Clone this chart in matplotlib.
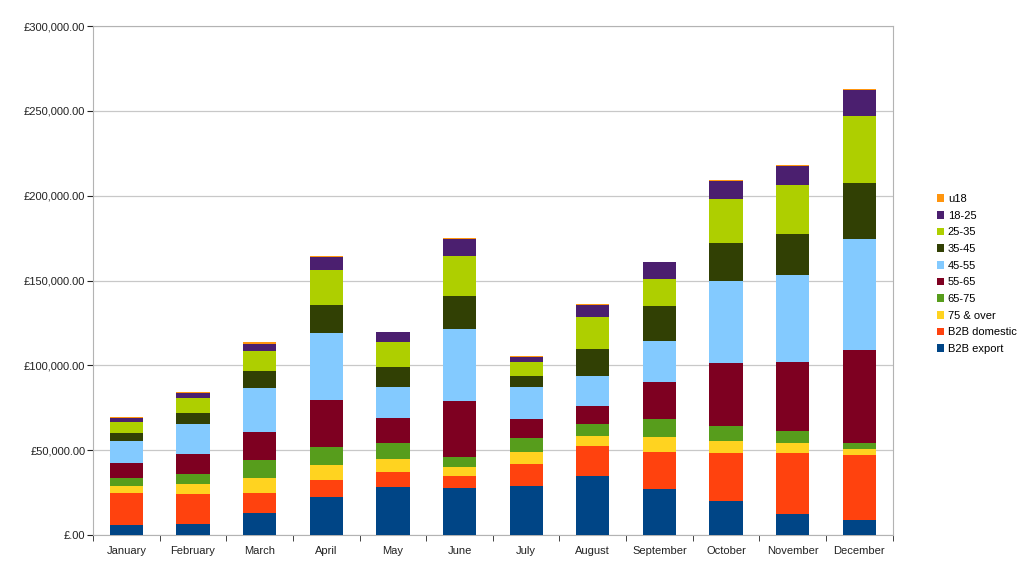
import numpy as np
import matplotlib.pyplot as plt
from matplotlib.ticker import FuncFormatter, MultipleLocator

plt.rcParams['font.family'] = ['Liberation Sans', 'DejaVu Sans']
plt.rcParams['font.size'] = 8

# Valeurs (en milliers de £)
months = ['January', 'February', 'March', 'April', 'May', 'June', 'July',
          'August', 'September', 'October', 'November', 'December']
b2b_export = [5.9, 6.7, 12.8, 22.6, 28.5, 27.5, 28.9, 34.8, 27.1, 20.0, 12.4, 8.8]
b2b_domestic = [19.0, 17.6, 11.8, 9.8, 8.4, 7.5, 12.8, 17.6, 21.8, 28.1, 35.7, 38.2]
over_75 = [4.2, 5.6, 9.0, 8.8, 8.1, 5.3, 7.0, 5.9, 8.8, 7.5, 5.9, 3.5]
age_65_75 = [4.7, 6.2, 10.4, 10.5, 9.4, 5.9, 8.5, 7.1, 10.5, 8.8, 7.5, 3.7]
age_55_65 = [8.4, 11.4, 16.5, 27.9, 14.7, 33.0, 11.2, 10.4, 22.1, 37.0, 40.4, 54.8]
age_45_55 = [13.0, 17.7, 25.9, 39.6, 17.9, 42.0, 18.6, 18.1, 24.0, 48.1, 51.1, 65.6]
age_35_45 = [5.1, 6.9, 10.1, 16.5, 11.8, 19.8, 6.7, 15.5, 20.6, 22.4, 24.2, 33.0]
age_25_35 = [6.1, 8.4, 11.7, 20.5, 14.7, 23.7, 8.2, 18.9, 16.1, 26.3, 28.9, 39.3]
age_18_25 = [2.7, 3.0, 4.5, 7.8, 5.9, 9.5, 3.2, 7.4, 9.9, 10.6, 11.3, 15.5]
u18 = [0.6, 0.6, 1.0, 0.4, 0.2, 0.6, 0.4, 0.2, 0.2, 0.6, 0.6, 0.2]

series = [
    ('B2B export', b2b_export, '#004586'),
    ('B2B domestic', b2b_domestic, '#ff420e'),
    ('75 & over', over_75, '#ffd320'),
    ('65-75', age_65_75, '#579d1c'),
    ('55-65', age_55_65, '#7e0021'),
    ('45-55', age_45_55, '#83caff'),
    ('35-45', age_35_45, '#314004'),
    ('25-35', age_25_35, '#aecf00'),
    ('18-25', age_18_25, '#4b1f6f'),
    ('u18', u18, '#ff950e'),
]

fig = plt.figure(figsize=(10.24, 5.64), dpi=100)
ax = fig.add_axes([0.0908, 0.0514, 0.781, 0.9025])

x = np.arange(len(months))
bottom = np.zeros(len(months))
for name, vals, col in series:
    v = np.array(vals) * 1000
    ax.bar(x, v, 0.5, bottom=bottom, color=col, label=name, zorder=3)
    bottom += v

ax.set_xlim(-0.5, len(months) - 0.5)
ax.set_ylim(0, 300000)
ax.yaxis.set_major_locator(MultipleLocator(50000))
ax.yaxis.set_major_formatter(FuncFormatter(
    lambda v, p: '£.00' if v == 0 else '£{:,.2f}'.format(v)))
ax.set_xticks(x)
ax.set_xticklabels(months)
ax.set_xticks(np.arange(-0.5, len(months), 1), minor=True)
ax.tick_params(axis='x', which='major', length=0, pad=8)
ax.tick_params(axis='x', which='minor', length=4, color='#b3b3b3')
ax.tick_params(axis='y', length=4, color='#b3b3b3', pad=1.5)
ax.tick_params(colors='#222222', which='both', labelcolor='#222222')

ax.grid(axis='y', color='#c8c8c8', linewidth=0.9, zorder=0)
for s in ax.spines.values():
    s.set_color('#b3b3b3')

h, l = ax.get_legend_handles_labels()
fig.legend(h[::-1], l[::-1], loc='center left', bbox_to_anchor=(0.905, 0.514),
           frameon=False, handlelength=0.7, handleheight=0.7, handletextpad=0.3,
           labelspacing=0.6, fontsize=8)

plt.savefig('out.png')
